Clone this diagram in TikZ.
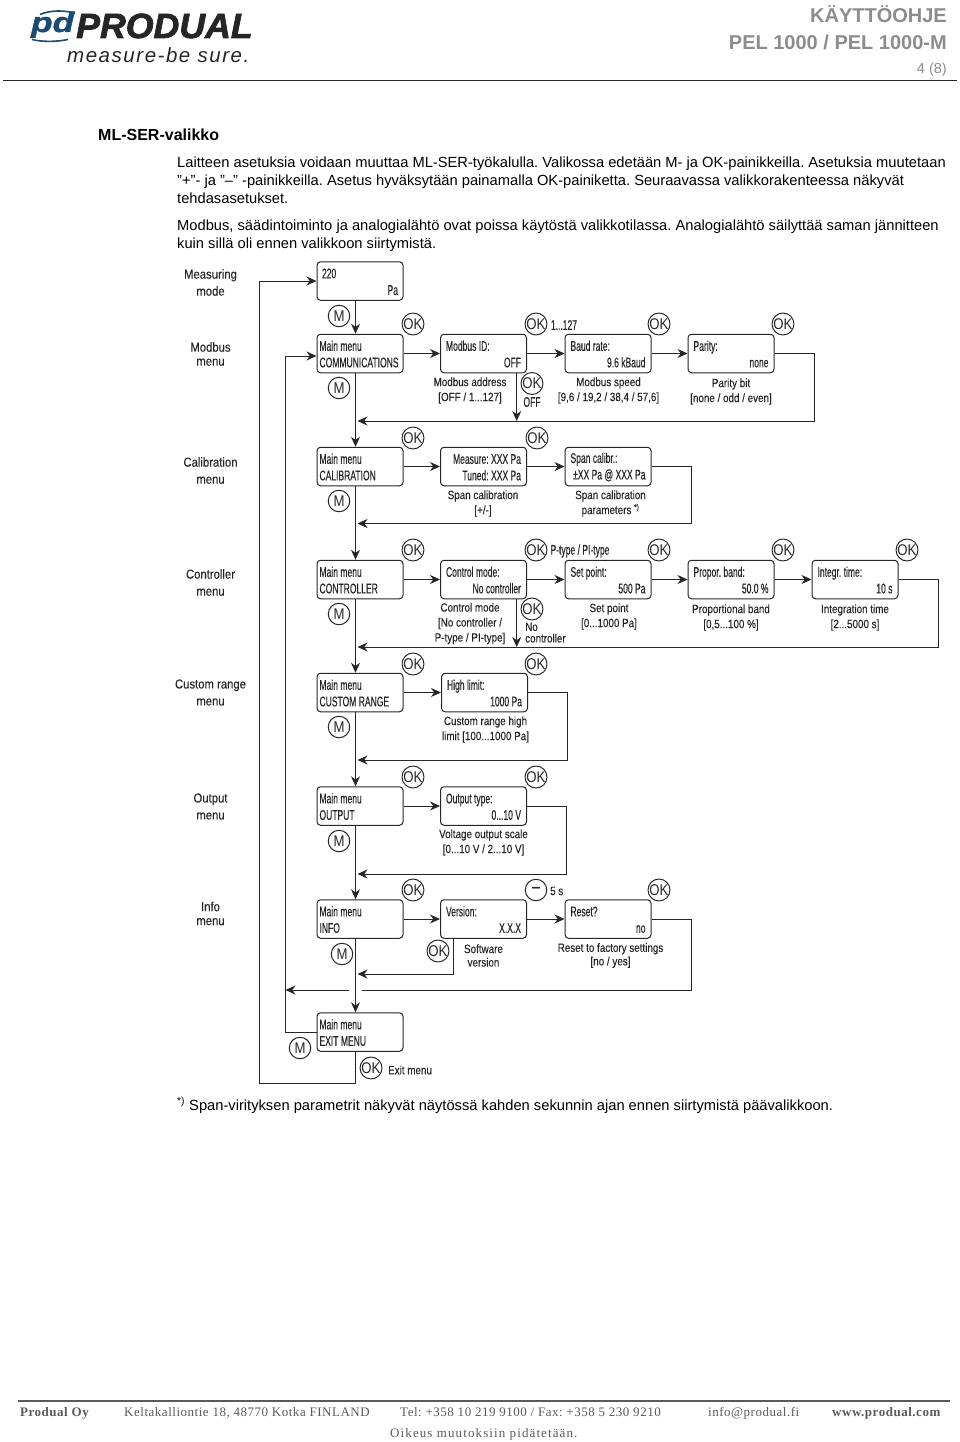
\documentclass[tikz,border=0pt]{standalone}
\usepackage{fontspec}
\usetikzlibrary{arrows.meta}
\setmainfont{Liberation Sans}
\newfontfamily\lcdfont[FakeStretch=0.61,FakeBold=0.3]{Liberation Sans}
\newfontfamily\capfont[FakeStretch=0.82,FakeBold=0.15]{Liberation Sans}
\newfontfamily\sidefont[FakeStretch=0.87,FakeBold=0.15]{Liberation Sans}
\newfontfamily\btnfont[FakeStretch=0.85]{Liberation Sans}
\newfontfamily\footfont[LetterSpace=4]{Liberation Serif}
\newfontfamily\chgfont[LetterSpace=8.5]{Liberation Serif}
\newfontfamily\logofont[FakeBold=2,FakeStretch=1.02]{Liberation Sans}
\newfontfamily\pdfont[FakeBold=1.5,FakeStretch=1.25]{Liberation Sans}
\newfontfamily\sloganfont[LetterSpace=7.5]{Liberation Sans}
\definecolor{ink}{HTML}{262626}
\definecolor{headgrey}{HTML}{8C8C8C}
\definecolor{footgrey}{HTML}{5A5A5A}
\definecolor{logoblue}{HTML}{1B4A72}
\frenchspacing
\newcommand{\lcdtype}{\lcdfont\fontsize{14}{16.5}\selectfont}
\newcommand{\lcdspace}{\setlength{\spaceskip}{2.4pt}}
\newcommand{\lcdstrut}{\lcdspace\leavevmode\vrule width 0pt height 11.3pt\relax}
\tikzset{
  lcd/.style={draw=ink,line width=1pt,rounded corners=3.5pt,minimum width=86pt,
    minimum height=38.5pt,inner xsep=5.5pt,inner ysep=0pt,text width=75pt,align=left,
    text=ink,font=\lcdtype,execute at begin node=\lcdstrut},
  mainlcd/.style={lcd,inner xsep=2.5pt,text width=81pt},
  okbtn/.style={draw=ink,circle,line width=1pt,minimum size=21.5pt,inner sep=0pt,
    text=ink,font=\btnfont\fontsize{15.5}{16}\selectfont},
  capt/.style={align=center,inner sep=0pt,yshift=-1pt,text=ink,font=\capfont\fontsize{12}{15}\selectfont},
  sidelabel/.style={align=center,inner sep=0pt,text=ink,font=\sidefont\fontsize{13}{17}\selectfont},
  small/.style={inner sep=0pt,text=ink,font=\lcdtype,execute at begin node=\lcdspace},
  flow/.style={draw=ink,line width=0.9pt,-{Stealth[length=10pt,width=9pt]}},
  plain/.style={draw=ink,line width=0.9pt},
  para/.style={anchor=base west,inner sep=0pt,font=\fontsize{14.7}{17}\selectfont},
  foot/.style={anchor=base west,inner sep=0pt,text=footgrey,font=\footfont\fontsize{13}{15}\selectfont},
  headtext/.style={anchor=base east,inner sep=0pt,text=headgrey}
}
\begin{document}
\begin{tikzpicture}[x=1pt,y=-1pt]
  \useasboundingbox (0,0) rectangle (960,1442);

  % page head
  \draw[logoblue,line width=1.6pt] (40,14.5) .. controls (50,10) and (66,10) .. (75,13.5);
  \draw[logoblue,line width=1.6pt] (32,39.5) .. controls (42,42) and (56,42) .. (68,39.5);
  \node[anchor=base west,inner sep=0pt,text=logoblue,font=\pdfont\itshape\bfseries\fontsize{28}{28}\selectfont] (logopd) at (31,32) {pd};
  \node[anchor=base west,inner sep=0pt,text=ink,font=\logofont\itshape\bfseries\fontsize{35}{35}\selectfont] (logoname) at (76,38) {PRODUAL};
  \node[anchor=base west,inner sep=0pt,text=ink,font=\sloganfont\itshape\fontsize{20.5}{20.5}\selectfont] (slogan) at (67,62.5) {measure-be sure.};
  \node[headtext,font=\bfseries\fontsize{20}{20}\selectfont] (doctype) at (947,23) {KÄYTTÖOHJE};
  \node[headtext,font=\bfseries\fontsize{20}{20}\selectfont] (docname) at (947,49.5) {PEL 1000 / PEL 1000-M};
  \node[headtext,font=\fontsize{14.5}{14.5}\selectfont] (docpage) at (947,74) {4 (8)};
  \draw[ink,line width=1pt] (3,81) -- (957,81);

  % text
  \node[anchor=base west,inner sep=0pt,font=\bfseries\fontsize{16}{16}\selectfont] (title) at (98,141) {ML-SER-valikko};
  \node[para] (line1) at (177,168) {Laitteen asetuksia voidaan muuttaa ML-SER-työkalulla. Valikossa edetään M- ja OK-painikkeilla. Asetuksia muutetaan};
  \node[para] (line2) at (177,185.5) {"+"- ja "--" -painikkeilla. Asetus hyväksytään painamalla OK-painiketta. Seuraavassa valikkorakenteessa näkyvät};
  \node[para] (line3) at (177,204) {tehdasasetukset.};
  \node[para] (line4) at (177,230.5) {Modbus, säädintoiminto ja analogialähtö ovat poissa käytöstä valikkotilassa. Analogialähtö säilyttää saman jännitteen};
  \node[para] (line5) at (177,248) {kuin sillä oli ennen valikkoon siirtymistä.};

  % row names
  \node[sidelabel] (measname) at (210.5,282.5) {Measuring\\mode};
  \node[sidelabel] (commname) at (210.5,354) {Modbus\\[-3pt]menu};
  \node[sidelabel] (calname) at (210.5,470.5) {Calibration\\menu};
  \node[sidelabel] (ctrlname) at (210.5,582.5) {Controller\\menu};
  \node[sidelabel] (rangename) at (210.5,692.5) {Custom range\\menu};
  \node[sidelabel] (outname) at (210.5,806.5) {Output\\menu};
  \node[sidelabel] (infoname) at (210.5,913.5) {Info\\[-3pt]menu};

  % displays
  \node[lcd,inner xsep=4pt,text width=76pt] (measuring) at (360,281) {220\\\hspace*{\fill}Pa};
  \node[mainlcd] (comm) at (360,353.5) {Main menu\\COMMUNICATIONS};
  \node[lcd] (modbusid) at (483.5,353.5) {Modbus ID:\\\hspace*{\fill}OFF};
  \node[lcd] (baud) at (608,353.5) {Baud rate:\\\hspace*{\fill}9.6 kBaud};
  \node[lcd] (parity) at (731,353.5) {Parity:\\\hspace*{\fill}none};
  \node[mainlcd] (calib) at (360,466.5) {Main menu\\CALIBRATION};
  \node[lcd] (measure) at (483.5,466.5) {\hspace*{\fill}Measure: XXX Pa\\\hspace*{\fill}Tuned: XXX Pa};
  \node[lcd] (span) at (608,466.5) {Span calibr.:\\\hspace*{\fill}±XX Pa @ XXX Pa};
  \node[mainlcd] (ctrl) at (360,579.5) {Main menu\\CONTROLLER};
  \node[lcd] (mode) at (483.5,579.5) {Control mode:\\\hspace*{\fill}No controller};
  \node[lcd] (setpoint) at (608,579.5) {Set point:\\\hspace*{\fill}500 Pa};
  \node[lcd] (band) at (731,579.5) {Propor. band:\\\hspace*{\fill}50.0 \%};
  \node[lcd] (integr) at (855,579.5) {Integr. time:\\\hspace*{\fill}10 s};
  \node[mainlcd] (range) at (360,692.5) {Main menu\\CUSTOM RANGE};
  \node[lcd] (high) at (484.5,692.5) {High limit:\\\hspace*{\fill}1000 Pa};
  \node[mainlcd] (output) at (360,806) {Main menu\\OUTPUT};
  \node[lcd] (outtype) at (483.5,806) {Output type:\\\hspace*{\fill}0...10 V};
  \node[mainlcd] (info) at (360,919) {Main menu\\INFO};
  \node[lcd] (version) at (483.5,919) {Version:\\\hspace*{\fill}X.X.X};
  \node[lcd] (reset) at (608,919) {Reset?\\\hspace*{\fill}no};
  \node[mainlcd] (exit) at (360,1032) {Main menu\\EXIT MENU};

  % captions
  \node[capt] (idcapt) at (470,389.5) {Modbus address\\{[OFF / 1...127]}};
  \node[capt] (baudcapt) at (608.5,389.5) {Modbus speed\\{[9,6 / 19,2 / 38,4 / 57,6]}};
  \node[capt] (paritycapt) at (731,390.5) {Parity bit\\{[none / odd / even]}};
  \node[capt] (measurecapt) at (483,502.5) {Span calibration\\{[+/-]}};
  \node[capt] (spancapt) at (610.5,502.5) {Span calibration\\parameters \textsuperscript{*)}};
  \node[capt] (modecapt) at (470,622.5) {Control mode\\{[No controller /}\\P-type / PI-type]};
  \node[capt] (setcapt) at (609,615.5) {Set point\\{[0...1000 Pa]}};
  \node[capt] (bandcapt) at (731,616.5) {Proportional band\\{[0,5...100 \%]}};
  \node[capt] (integrcapt) at (855,616.5) {Integration time\\{[2...5000 s]}};
  \node[capt] (highcapt) at (485.5,728.5) {Custom range high\\limit [100...1000 Pa]};
  \node[capt] (outcapt) at (483.5,841.5) {Voltage output scale\\{[0...10 V / 2...10 V]}};
  \node[capt] (vercapt) at (483.5,954.5) {Software\\[-1.5pt]version};
  \node[capt] (resetcapt) at (610.5,954.5) {Reset to factory settings\\[-1.5pt]{[no / yes]}};
  \node[capt,anchor=west] (exitcapt) at (388,1069) {Exit menu};
  \node[small] (idrange) at (564,325) {1...127};
  \node[small] (idoff) at (532,402) {OFF};
  \node[small] (ptype) at (580,551) {P-type / PI-type};
  \node[capt,align=left,anchor=north west,font=\capfont\fontsize{12}{11.5}\selectfont] (noctrl) at (525,621.5) {No\\controller};
  \node[capt,anchor=west] (fivesec) at (550,890) {5 s};

  % buttons
  \node[okbtn] (mmeas) at (339,316) {M};
  \node[okbtn] (mcomm) at (339,388) {M};
  \node[okbtn] (mcalib) at (339,501) {M};
  \node[okbtn] (mctrl) at (339,614) {M};
  \node[okbtn] (mrange) at (339,727) {M};
  \node[okbtn] (moutput) at (339,841) {M};
  \node[okbtn] (minfo) at (342,954) {M};
  \node[okbtn] (mexit) at (300,1048) {M};
  \node[okbtn] (okcomm) at (413,324) {OK};
  \node[okbtn] (okid) at (536,324) {OK};
  \node[okbtn] (okbaud) at (659,324) {OK};
  \node[okbtn] (okparity) at (783,324) {OK};
  \node[okbtn] (okoff) at (532,383.5) {OK};
  \node[okbtn] (okcalib) at (413,438) {OK};
  \node[okbtn] (okmeasure) at (537,438) {OK};
  \node[okbtn] (okctrl) at (413,550) {OK};
  \node[okbtn] (okmode) at (536,550) {OK};
  \node[okbtn] (okset) at (659,550) {OK};
  \node[okbtn] (okband) at (783,550) {OK};
  \node[okbtn] (okintegr) at (907,550) {OK};
  \node[okbtn] (oknone) at (532,609) {OK};
  \node[okbtn] (okrange) at (413,664) {OK};
  \node[okbtn] (okhigh) at (536,664) {OK};
  \node[okbtn] (okoutput) at (413,777) {OK};
  \node[okbtn] (okouttype) at (536,777) {OK};
  \node[okbtn] (okinfo) at (413,890) {OK};
  \node[okbtn,font=\bfseries\fontsize{16}{16}\selectfont] (minus) at (536,890) {--};
  \node[okbtn] (okreset) at (659,890) {OK};
  \node[okbtn] (okversion) at (438,951) {OK};
  \node[okbtn] (okexit) at (371,1068) {OK};

  % connector points
  \coordinate (spine) at (355.5,0);
  \coordinate (commret) at (814,421);
  \coordinate (offdrop) at (516.7,421);
  \coordinate (calret) at (691,523.5);
  \coordinate (ctrlret) at (938,647);
  \coordinate (nodrop) at (516.7,647);
  \coordinate (rangeret) at (567,760);
  \coordinate (outret) at (566,874);
  \coordinate (verret) at (453,974);
  \coordinate (resetret) at (691,990);
  \coordinate (gapright) at (362,990);
  \coordinate (gapleft) at (349,990);
  \coordinate (outer) at (259,1083);
  \coordinate (inner) at (285.5,356);

  % down the menu
  \draw[flow] (measuring.south -| spine) -- (comm.north -| spine);
  \draw[flow] (comm.south -| spine) -- (calib.north -| spine);
  \draw[flow] (calib.south -| spine) -- (ctrl.north -| spine);
  \draw[flow] (ctrl.south -| spine) -- (range.north -| spine);
  \draw[flow] (range.south -| spine) -- (output.north -| spine);
  \draw[flow] (output.south -| spine) -- (info.north -| spine);
  \draw[flow] (info.south -| spine) -- (exit.north -| spine);

  % along the rows
  \draw[flow] (comm.east) -- (modbusid.west);
  \draw[flow] (modbusid.east) -- (baud.west);
  \draw[flow] (baud.east) -- (parity.west);
  \draw[flow] (calib.east) -- (measure.west);
  \draw[flow] (measure.east) -- (span.west);
  \draw[flow] (ctrl.east) -- (mode.west);
  \draw[flow] (mode.east) -- (setpoint.west);
  \draw[flow] (setpoint.east) -- (band.west);
  \draw[flow] (band.east) -- (integr.west);
  \draw[flow] (range.east) -- (high.west);
  \draw[flow] (output.east) -- (outtype.west);
  \draw[flow] (info.east) -- (version.west);
  \draw[flow] (version.east) -- (reset.west);

  % back to the menu
  \draw[flow] (parity.east) -| (commret) -- ([xshift=2pt]commret -| spine);
  \draw[flow] (offdrop |- modbusid.south) -- (offdrop);
  \draw[flow] (span.east) -| (calret) -- ([xshift=2pt]calret -| spine);
  \draw[flow] (integr.east) -| (ctrlret) -- ([xshift=2pt]ctrlret -| spine);
  \draw[flow] (nodrop |- mode.south) -- (nodrop);
  \draw[flow] (high.east) -| (rangeret) -- ([xshift=2pt]rangeret -| spine);
  \draw[flow] (outtype.east) -| (outret) -- ([xshift=2pt]outret -| spine);
  \draw[flow] (verret |- version.south) -- (verret) -- ([xshift=2pt]verret -| spine);
  \draw[plain] (reset.east) -| (resetret) -- (gapright);
  \draw[flow] (gapleft) -- (gapleft -| inner);
  \draw[flow] (exit.south -| spine) -- (spine |- outer) -- (outer) -- (outer |- measuring.west) -- (measuring.west);
  \draw[flow] (exit.west) -- (exit.west -| inner) -- (inner) -- (inner -| comm.west);

  % note and page foot
  \node[para] (note) at (177,1110) {\textsuperscript{*)} Span-virityksen parametrit näkyvät näytössä kahden sekunnin ajan ennen siirtymistä päävalikkoon.};
  \draw[footgrey,line width=2pt] (18,1401) -- (950,1401);
  \node[foot,font=\footfont\bfseries\fontsize{13}{15}\selectfont] (footname) at (20,1416.5) {Produal Oy};
  \node[foot] (footaddr) at (124,1416.5) {Keltakalliontie 18, 48770 Kotka FINLAND};
  \node[foot] (foottel) at (400,1416.5) {Tel: +358 10 219 9100 / Fax: +358 5 230 9210};
  \node[foot] (footmail) at (708,1416.5) {info@produal.fi};
  \node[foot,font=\footfont\bfseries\fontsize{13}{15}\selectfont] (footweb) at (832,1416.5) {www.produal.com};
  \node[foot,font=\chgfont\fontsize{13}{15}\selectfont] (footchg) at (390,1437) {Oikeus muutoksiin pidätetään.};
\end{tikzpicture}
\end{document}
